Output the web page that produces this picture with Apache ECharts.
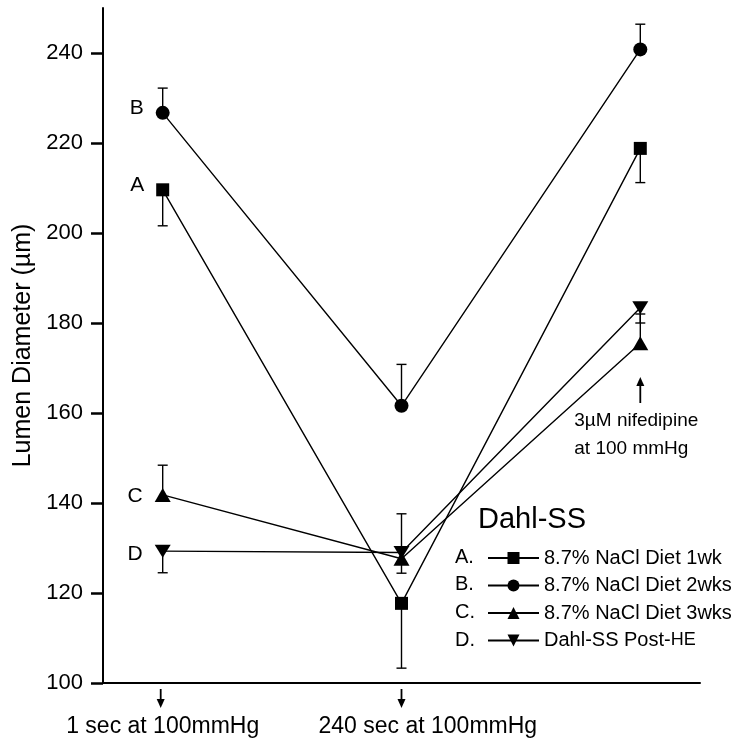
<!DOCTYPE html>
<html>
<head>
<meta charset="utf-8">
<script src="https://cdn.jsdelivr.net/npm/echarts@6/dist/echarts.min.js"></script>
<style>
  html, body { margin: 0; padding: 0; background: #fff; }
  #chart { width: 734px; height: 740px; }
</style>
</head>
<body>
<div id="chart"></div>
<script>
// Time points (x index) and their captions
const timePoints = [0, 1, 2];
const timeCaptions = ['1 sec at 100mmHg', '240 sec at 100mmHg'];

// Mean lumen diameter (µm) per group
const meanA = [209.6, 117.7, 218.8];
const meanB = [226.7, 161.6, 240.8];
const meanC = [141.8, 127.6, 175.5];
const meanD = [129.3, 129.0, 183.4];

// End of the (one-sided) SEM whisker per group
const errA = [201.6, 103.3, 211.2];
const errB = [232.2, 170.8, 246.4];
const errC = [148.4, 137.6, 182.0];
const errD = [124.5, 124.4, 180.0];

// Group letters and legend names
const groupLetters = ['A', 'B', 'C', 'D'];
const groupNames = ['8.7% NaCl Diet 1wk', '8.7% NaCl Diet 2wks', '8.7% NaCl Diet 3wks', 'Dahl-SS Post-HE'];

// Y axis ticks
const yTicks = [100, 120, 140, 160, 180, 200, 220, 240];

const FONT = '"Liberation Sans", Arial, Helvetica, sans-serif';
const INK = '#000';

const means = [meanA, meanB, meanC, meanD];
const errs = [errA, errB, errC, errD];
const symbols = ['rect', 'circle', 'triangle', 'triangle'];
const symbolSizes = [13, 14, [16, 14], [16, 13]];
const symbolRotates = [0, 0, 0, 180];
const letterOffsets = [[0, -5], [0, -5], [0, 1], [0, 3]];

const chart = echarts.init(document.getElementById('chart'), null, { renderer: 'canvas' });

const lineSeries = means.map((vals, g) => ({
  name: groupNames[g],
  type: 'line',
  symbol: symbols[g],
  symbolSize: symbolSizes[g],
  symbolRotate: symbolRotates[g],
  showAllSymbol: true,
  z: 3,
  lineStyle: { color: INK, width: 1.4 },
  itemStyle: { color: INK, borderWidth: 0 },
  emphasis: { disabled: true },
  data: vals.map((v, i) => i === 0 ? {
    value: [timePoints[i], v],
    label: {
      show: true, formatter: groupLetters[g], position: 'left', distance: 12,
      offset: letterOffsets[g], color: INK, fontSize: 21, fontFamily: FONT
    }
  } : [timePoints[i], v])
}));

const errorSeries = means.map((vals, g) => ({
  type: 'custom',
  z: 2,
  silent: true,
  encode: { x: 0, y: [1, 2] },
  renderItem: function (params, api) {
    const p0 = api.coord([api.value(0), api.value(1)]);
    const p1 = api.coord([api.value(0), api.value(2)]);
    const st = { stroke: INK, lineWidth: 1.4 };
    return {
      type: 'group',
      children: [
        { type: 'line', shape: { x1: p0[0], y1: p0[1], x2: p1[0], y2: p1[1] }, style: st },
        { type: 'line', shape: { x1: p1[0] - 5, y1: p1[1], x2: p1[0] + 5, y2: p1[1] }, style: st }
      ]
    };
  },
  data: vals.map((v, i) => [timePoints[i], v, errs[g][i]])
}));

chart.setOption({
  animation: false,
  backgroundColor: '#fff',
  grid: { left: 103, right: 34, top: 8, bottom: 57, containLabel: false },
  xAxis: {
    type: 'value', min: -0.25, max: 2.25,
    axisLine: { show: true, onZero: false, lineStyle: { color: INK, width: 2 } },
    axisTick: { show: false }, axisLabel: { show: false }, splitLine: { show: false }
  },
  yAxis: {
    type: 'value', min: 100, max: 250,
    name: 'Lumen Diameter (µm)', nameLocation: 'middle', nameGap: 66,
    nameTextStyle: { fontSize: 25, fontFamily: FONT, color: INK },
    axisLine: { show: true, onZero: false, lineStyle: { color: INK, width: 2 } },
    axisTick: { show: true, inside: false, customValues: yTicks, length: 12, lineStyle: { color: INK, width: 2.5 } },
    axisLabel: { customValues: yTicks, fontSize: 22, fontFamily: FONT, color: INK, margin: 20 },
    splitLine: { show: false }
  },
  legend: {
    orient: 'vertical', left: 482, top: 543,
    itemWidth: 51, itemHeight: 15, itemGap: 7.5,
    selectedMode: false,
    textStyle: {
      fontSize: 20, fontFamily: FONT, color: INK,
      rich: { s: { fontSize: 18, fontFamily: FONT, color: INK } }
    },
    formatter: function (name) {
      return name === 'Dahl-SS Post-HE' ? 'Dahl-SS Post-{s|HE}' : name;
    },
    data: groupNames
  },
  series: [...errorSeries, ...lineSeries]
});

// Annotations tied to data positions
function px(x, y) { return chart.convertToPixel({ gridIndex: 0 }, [x, y]); }
const axisY = px(0, 100)[1];

function arrow(x, yTail, yTip) {
  const dir = yTip > yTail ? 1 : -1;
  return [
    { type: 'line', shape: { x1: x, y1: yTail, x2: x, y2: yTip - dir * 6 }, style: { stroke: INK, lineWidth: 1.8 } },
    { type: 'polygon', shape: { points: [[x - 4, yTip - dir * 9], [x + 4, yTip - dir * 9], [x, yTip]] }, style: { fill: INK } }
  ];
}

const g = [];
// Down arrows and captions under the first two time points
g.push(...arrow(px(timePoints[0], 100)[0] - 2, axisY + 6, axisY + 25));
g.push(...arrow(px(timePoints[1], 100)[0], axisY + 6, axisY + 25));
g.push({ type: 'text', x: px(timePoints[0], 100)[0], y: axisY + 44,
  style: { text: timeCaptions[0], fontSize: 23, fontFamily: FONT, fill: INK, align: 'center', verticalAlign: 'middle' } });
g.push({ type: 'text', x: px(timePoints[1], 100)[0] - 83, y: axisY + 44,
  style: { text: timeCaptions[1], fontSize: 23, fontFamily: FONT, fill: INK, align: 'left', verticalAlign: 'middle' } });

// Up arrow and note at the third time point
const p3 = px(timePoints[2], 160);
g.push(...arrow(p3[0], 403, 377));
g.push({ type: 'text', x: p3[0] - 66, y: 407,
  style: { text: '3µM nifedipine\nat 100 mmHg', fontSize: 19, lineHeight: 28, fontFamily: FONT, fill: INK, align: 'left', verticalAlign: 'top' } });

// Legend heading and group prefixes
g.push({ type: 'text', x: 478, y: 520,
  style: { text: 'Dahl-SS', fontSize: 29, fontFamily: FONT, fill: INK, align: 'left', verticalAlign: 'middle' } });
groupLetters.forEach((l, i) => {
  g.push({ type: 'text', x: 455, y: 557 + i * 27.7,
    style: { text: l + '.', fontSize: 20, fontFamily: FONT, fill: INK, align: 'left', verticalAlign: 'middle' } });
});

chart.setOption({ graphic: g });
</script>
</body>
</html>
